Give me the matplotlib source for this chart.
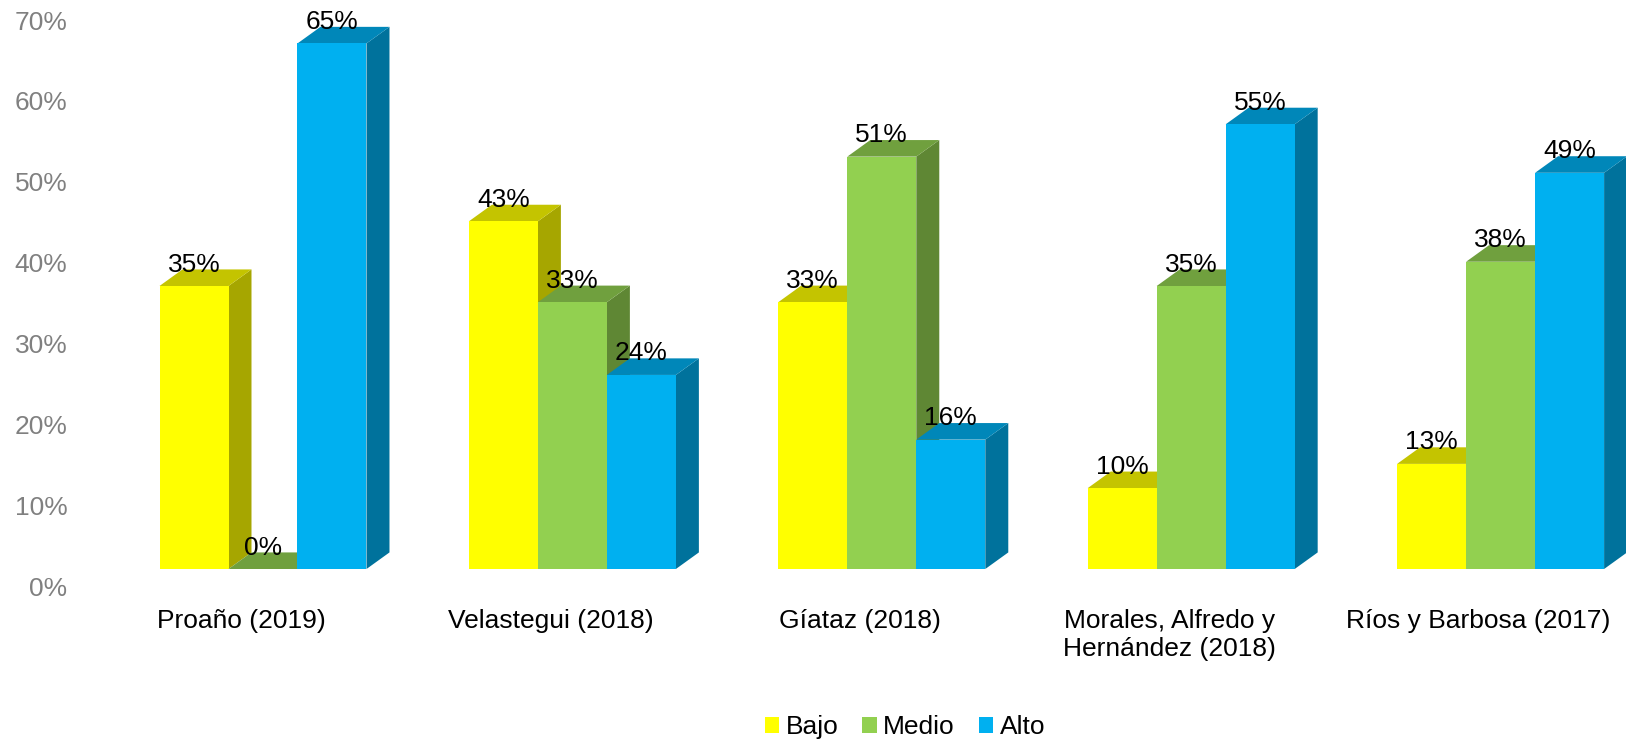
import matplotlib
matplotlib.use("Agg")
import matplotlib.pyplot as plt
import matplotlib.transforms as mtransforms
from matplotlib.patches import Polygon, Patch
from matplotlib.ticker import PercentFormatter
import numpy as np

plt.rcParams['font.family'] = ['Liberation Sans', 'DejaVu Sans']

categories = ["Proaño (2019)", "Velastegui (2018)", "Gíataz (2018)",
              "Morales, Alfredo y\nHernández (2018)", "Ríos y Barbosa (2017)"]
series = ["Bajo", "Medio", "Alto"]
bajo = [0.35, 0.43, 0.33, 0.10, 0.13]
medio = [0.00, 0.33, 0.51, 0.35, 0.38]
alto = [0.65, 0.24, 0.16, 0.55, 0.49]
labels_bajo = ["35%", "43%", "33%", "10%", "13%"]
labels_medio = ["0%", "33%", "51%", "35%", "38%"]
labels_alto = ["65%", "24%", "16%", "55%", "49%"]

front = ["#FFFF00", "#92D050", "#00B0F0"]
top = ["#C4C400", "#70A03E", "#0087B9"]
side = ["#A6A600", "#5F8734", "#00729C"]

W, H = 1626, 744
FS = 19
fig = plt.figure(figsize=(W / 100, H / 100), dpi=100)
ax = fig.add_axes([80 / W, (H - 569) / H, (W - 80) / W, 566 / H])

bw = 0.223      # bar width (category units)
ddx = 0.0743    # depth offset x
ddy = 0.0205    # depth offset y

x = np.arange(len(categories))
vals = [bajo, medio, alto]
labs = [labels_bajo, labels_medio, labels_alto]

z = 2
for i in range(len(categories)):
    for s in range(3):
        xc = x[i] + (s - 1) * bw
        v = vals[s][i]
        x0, x1 = xc - bw / 2, xc + bw / 2
        # side face
        ax.add_patch(Polygon([(x1, 0), (x1 + ddx, ddy), (x1 + ddx, v + ddy), (x1, v)],
                             closed=True, facecolor=side[s], edgecolor='none', zorder=z))
        # top face
        ax.add_patch(Polygon([(x0, v), (x0 + ddx, v + ddy), (x1 + ddx, v + ddy), (x1, v)],
                             closed=True, facecolor=top[s], edgecolor='none', zorder=z + 0.1))
        ax.bar(xc, v, width=bw, color=front[s], edgecolor='none', zorder=z + 0.2)
        ax.annotate(labs[s][i], (xc, v + ddy), xytext=(0, -1.5),
                    textcoords='offset points', ha='center', va='baseline',
                    fontsize=FS, color='black', zorder=50)
        z += 1

ax.set_xlim((80 - 263) / 309.4, (W - 263) / 309.4)
ax.set_ylim(0, 0.70)
ax.set_yticks(np.arange(0, 0.71, 0.1))
ax.yaxis.set_major_formatter(PercentFormatter(1.0, decimals=0))
ax.set_xticks(x)
ax.set_xticklabels(categories, fontsize=FS, color='black', linespacing=1.2)
ax.tick_params(axis='y', length=0, pad=9, labelsize=FS, labelcolor='#808080')
ax.tick_params(axis='x', length=0, pad=29)
for sp in ax.spines.values():
    sp.set_visible(False)

off_x = mtransforms.ScaledTranslation(-22 / 100, 0, fig.dpi_scale_trans)
for t in ax.get_xticklabels():
    t.set_transform(t.get_transform() + off_x)
off_y = mtransforms.ScaledTranslation(0, -17 / 100, fig.dpi_scale_trans)
for t in ax.get_yticklabels():
    t.set_transform(t.get_transform() + off_y)

handles = [Patch(facecolor=front[s], edgecolor='none', label=series[s]) for s in range(3)]
fig.legend(handles=handles, loc='center', bbox_to_anchor=(905 / W, 1 - 727 / H),
           ncol=3, frameon=False, fontsize=FS, handlelength=0.54, handleheight=0.54,
           handletextpad=0.25, columnspacing=0.9, borderaxespad=0)

fig.savefig("out.png", dpi=100)
